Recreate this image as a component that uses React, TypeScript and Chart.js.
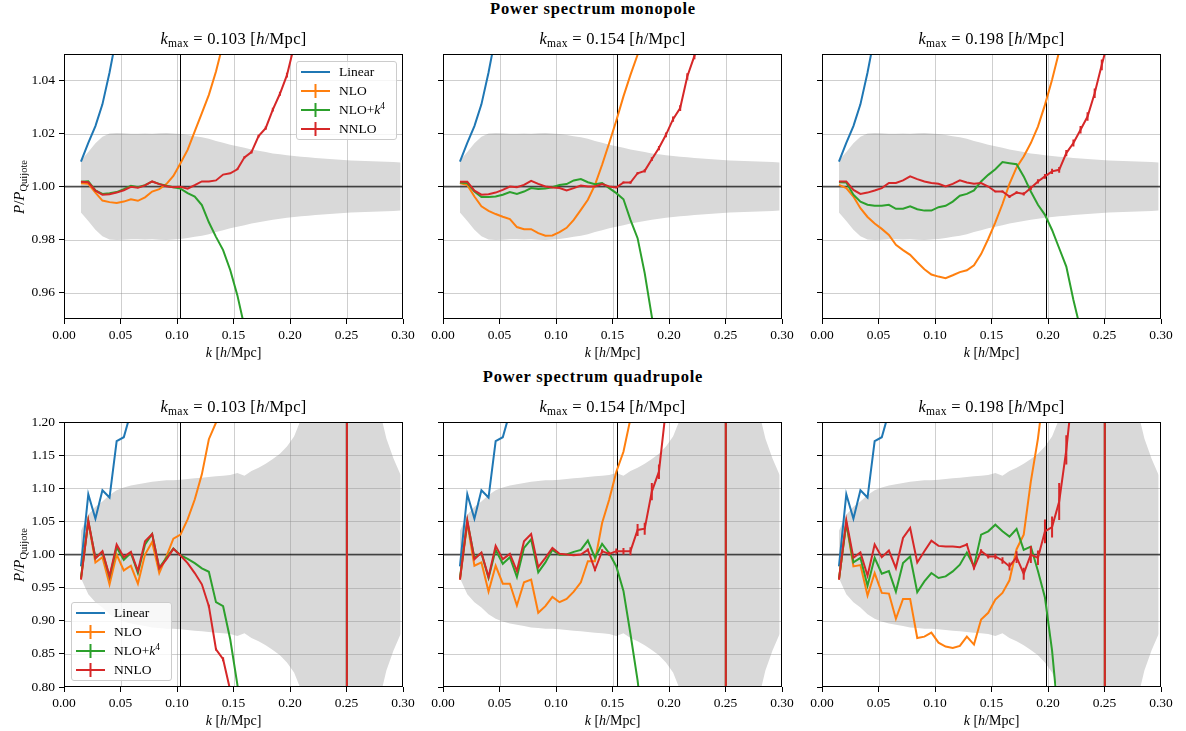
import React, { useEffect, useRef } from "react";
import { Chart, registerables } from "chart.js";

Chart.register(...registerables);

const FONT = "'Liberation Serif', 'Times New Roman', serif";
Chart.defaults.font.family = FONT;
Chart.defaults.color = "#000";

// Wavenumber bins [h/Mpc]
const kBins = [
  0.0150, 0.0215, 0.0278, 0.0340, 0.0403, 0.0466, 0.0529, 0.0592, 0.0654, 0.0717,
  0.0780, 0.0843, 0.0906, 0.0968, 0.1031, 0.1094, 0.1157, 0.1220, 0.1282, 0.1345,
  0.1408, 0.1471, 0.1534, 0.1597, 0.1659, 0.1722, 0.1785, 0.1848, 0.1911, 0.1973,
  0.2036, 0.2099, 0.2162, 0.2225, 0.2288, 0.2350, 0.2413, 0.2476, 0.2539, 0.2602,
  0.2665, 0.2727, 0.2790, 0.2853, 0.2916, 0.2979,
];

const xTicks = [0, 0.05, 0.1, 0.15, 0.2, 0.25, 0.3];
const yTicksMono = [0.96, 0.98, 1.0, 1.02, 1.04];
const yTicksQuad = [0.8, 0.85, 0.9, 0.95, 1.0, 1.05, 1.1, 1.15, 1.2];
const kmaxValues = [0.103, 0.154, 0.198];

// Relative 1-sigma scatter of the simulations
const sigmaMono = [
  0.0098, 0.0130, 0.0163, 0.0188, 0.0200, 0.0202, 0.0201, 0.0199, 0.0199, 0.0200,
  0.0199, 0.0201, 0.0202, 0.0200, 0.0198, 0.0194, 0.0190, 0.0186, 0.0180, 0.0172,
  0.0165, 0.0158, 0.0152, 0.0146, 0.0140, 0.0135, 0.0130, 0.0125, 0.0122, 0.0118,
  0.0115, 0.0112, 0.0110, 0.0108, 0.0106, 0.0104, 0.0102, 0.0100, 0.0098, 0.0097,
  0.0096, 0.0095, 0.0094, 0.0093, 0.0092, 0.0091,
];
const sigmaQuad = [
  0.036, 0.060, 0.072, 0.080, 0.090, 0.097, 0.101, 0.104, 0.106, 0.108,
  0.110, 0.111, 0.112, 0.112, 0.113, 0.114, 0.115, 0.116, 0.117, 0.118,
  0.119, 0.120, 0.123, 0.119, 0.126, 0.131, 0.137, 0.144, 0.152, 0.163,
  0.178, 0.205, 0.25, 0.32, 0.45, 0.8, 1.8, 12.0, 9.0, 1.6,
  0.7, 0.4, 0.22, 0.175, 0.145, 0.120,
];

// ---- Monopole ratios P / P_Quijote ----
const linearMono = [1.0094, 1.0165, 1.0228, 1.031, 1.043, 1.057, 1.071, 1.086];

const nloMono103 = [
  1.0012, 1.0010, 0.9977, 0.9947, 0.9941, 0.9938, 0.9943, 0.9952, 0.9946, 0.9959,
  0.9981, 0.9990, 1.0009, 1.0040, 1.0088, 1.0138, 1.0208, 1.0277, 1.0346, 1.0434,
  1.0540, 1.066,
];
const nlok4Mono103 = [
  1.0018, 1.0020, 0.9985, 0.9972, 0.9975, 0.9979, 0.9990, 1.0003, 0.9997, 1.0005,
  1.0019, 1.0010, 1.0003, 0.9997, 0.9992, 0.9975, 0.9962, 0.9930, 0.9865, 0.9810,
  0.9760, 0.9685, 0.9590, 0.9470, 0.934,
];
const nnloMono103 = [
  1.0018, 1.0016, 0.9984, 0.9969, 0.9971, 0.9977, 0.9986, 0.9999, 0.9995, 1.0004,
  1.0019, 1.0009, 1.0001, 0.9997, 0.9999, 0.9992, 1.0005, 1.0019, 1.0019, 1.0023,
  1.0045, 1.0050, 1.0065, 1.0110, 1.0130, 1.0190, 1.0220, 1.0290, 1.0350, 1.0420,
  1.0530, 1.065,
];

const nloMono154 = [
  1.0013, 1.0006, 0.9962, 0.9925, 0.9908, 0.9896, 0.9886, 0.9877, 0.9847, 0.9839,
  0.9839, 0.9824, 0.9814, 0.9815, 0.9828, 0.9844, 0.9874, 0.9912, 0.9950, 1.0006,
  1.0082, 1.0164, 1.0249, 1.0340, 1.0421, 1.0497, 1.0580,
];
const nlok4Mono154 = [
  1.0015, 1.0013, 0.9981, 0.9960, 0.9960, 0.9962, 0.9969, 0.9979, 0.9972, 0.9981,
  0.9994, 0.9991, 0.9992, 0.9997, 1.0006, 1.0009, 1.0023, 1.0028, 1.0016, 1.0009,
  1.0013, 0.9994, 0.9975, 0.9952, 0.9874, 0.9805, 0.9673, 0.9509, 0.932,
];
const nnloMono154 = [
  1.0018, 1.0018, 0.9984, 0.9969, 0.9971, 0.9977, 0.9987, 1.0000, 0.9997, 1.0006,
  1.0021, 1.0010, 1.0000, 0.9996, 0.9994, 0.9985, 0.9994, 1.0004, 1.0000, 1.0000,
  1.0009, 1.0000, 0.9996, 1.0015, 1.0015, 1.0050, 1.0059, 1.0103, 1.0145, 1.0195,
  1.0254, 1.0296, 1.0415, 1.0493, 1.060,
];

const nloMono198 = [
  1.0006, 0.9994, 0.9962, 0.9918, 0.9885, 0.9860, 0.9840, 0.9817, 0.9780, 0.9760,
  0.9742, 0.9714, 0.9688, 0.9668, 0.9660, 0.9654, 0.9665, 0.9677, 0.9684, 0.9703,
  0.9745, 0.9802, 0.9865, 0.9934, 1.0010, 1.0072, 1.0113, 1.0164, 1.0226, 1.0308,
  1.0403, 1.0510, 1.062,
];
const nlok4Mono198 = [
  1.0016, 1.0015, 0.9969, 0.9943, 0.9931, 0.9927, 0.9927, 0.9931, 0.9916, 0.9916,
  0.9925, 0.9914, 0.9909, 0.9909, 0.9922, 0.9927, 0.9943, 0.9965, 0.9972, 0.9985,
  1.0019, 1.0044, 1.0065, 1.0092, 1.0088, 1.0084, 1.0038, 0.9981, 0.9931, 0.9893,
  0.9836, 0.9767, 0.9698, 0.9572, 0.9460, 0.930,
];
const nnloMono198 = [
  1.0019, 1.0019, 0.9987, 0.9972, 0.9977, 0.9985, 0.9994, 1.0013, 1.0013, 1.0023,
  1.0038, 1.0028, 1.0019, 1.0013, 1.0010, 1.0000, 1.0010, 1.0023, 1.0015, 1.0010,
  1.0013, 1.0000, 0.9981, 0.9981, 0.9962, 0.9977, 0.9972, 0.9994, 1.0019, 1.0038,
  1.0057, 1.0063, 1.0126, 1.0164, 1.0214, 1.0264, 1.0352, 1.0459, 1.056,
];

const nnloErrMono = [
  0, 0, 0, 0, 0, 0, 0, 0, 0, 0,
  0, 0, 0, 0, 0, 0, 0, 0, 0, 0,
  0, 0, 0.0003, 0.0004, 0.0005, 0.0005, 0.0006, 0.0007, 0.0008, 0.0009,
  0.0010, 0.0011, 0.0012, 0.0013, 0.0014, 0.0016, 0.0018, 0.0020, 0.0022,
];

// ---- Quadrupole ratios P / P_Quijote ----
const linearQuad = [
  0.982, 1.091, 1.054, 1.097, 1.086, 1.171, 1.177, 1.215, 1.25, 1.29,
  1.33, 1.37, 1.41, 1.45, 1.50, 1.55, 1.60, 1.66, 1.72, 1.79,
  1.86, 1.94, 2.03, 2.13, 2.25, 2.40, 2.57, 2.78, 3.05, 3.40,
  3.90, 4.60, 5.70, 7.50, 11.0, 17.0, 28.0, 38.0, -62.0, -9.0,
];

const nloQuad103 = [
  0.963, 1.050, 0.988, 0.996, 0.955, 1.000, 0.976, 0.983, 0.956, 1.000,
  1.019, 0.972, 0.997, 1.024, 1.030, 1.053, 1.083, 1.121, 1.174, 1.199,
  1.26, 1.33, 1.42, 1.52, 1.64, 1.78, 1.95, 2.15, 2.40, 2.70,
  3.10, 3.70, 4.60, 6.00, 8.50, 13.0, 24.0, 40.0, -65.0, -10.0,
];
const nlok4Quad103 = [
  0.965, 1.050, 0.995, 1.004, 0.966, 1.011, 0.992, 1.0025, 0.972, 1.015,
  1.031, 0.980, 0.995, 1.009, 0.999, 0.9935, 0.987, 0.979, 0.974, 0.928,
  0.922, 0.872, 0.804, 0.72, 0.62, 0.50, 0.36, 0.20, 0.0, -0.3,
  -0.7, -1.3, -2.2, -3.6, -6.0, -11.0, -21.0, -38.0, 62.0, 9.0,
];
const nnloQuad103 = [
  0.962, 1.051, 0.994, 1.005, 0.967, 1.015, 0.996, 1.004, 0.975, 1.020,
  1.031, 0.979, 0.9925, 1.0085, 0.9985, 0.987, 0.972, 0.955, 0.922, 0.857,
  0.842, 0.795, 0.70, 0.58, 0.44, 0.28, 0.10, -0.12, -0.4, -0.8,
  -1.3, -2.0, -3.0, -4.5, -7.0, -12.0, -22.0, -38.0, 62.0, 9.0,
];

const nloQuad154 = [
  0.962, 1.0475, 0.983, 0.988, 0.944, 0.983, 0.956, 0.956, 0.923, 0.958,
  0.962, 0.912, 0.922, 0.936, 0.928, 0.933, 0.944, 0.958, 0.990, 0.990,
  1.0475, 1.083, 1.125, 1.155, 1.205, 1.27, 1.36, 1.48, 1.63, 1.82,
  2.07, 2.40, 2.90, 3.70, 5.20, 8.50, 17.0, 38.0, -62.0, -9.0,
];
const nlok4Quad154 = [
  0.9645, 1.050, 0.995, 1.002, 0.9645, 1.007, 0.986, 0.996, 0.966, 1.010,
  1.023, 0.973, 0.988, 1.007, 0.9998, 1.000, 1.004, 1.007, 1.021, 0.995,
  1.016, 1.002, 0.982, 0.945, 0.880, 0.810, 0.72, 0.60, 0.45, 0.26,
  0.02, -0.3, -0.75, -1.4, -2.5, -4.8, -11.0, -38.0, 62.0, 9.0,
];
const nnloQuad154 = [
  0.962, 1.0515, 0.993, 1.003, 0.966, 1.013, 0.993, 1.001, 0.975, 1.020,
  1.031, 0.981, 0.995, 1.010, 1.001, 1.000, 0.999, 1.000, 1.007, 0.977,
  1.005, 1.001, 1.005, 1.005, 1.005, 1.037, 1.039, 1.095, 1.125, 1.22,
  1.35, 1.52, 1.75, 2.10, 2.70, 4.00, 8.00, 38.0, -62.0, -9.0,
];

const nloQuad198 = [
  0.962, 1.0475, 0.982, 0.984, 0.938, 0.972, 0.942, 0.941, 0.903, 0.933,
  0.933, 0.874, 0.876, 0.882, 0.867, 0.861, 0.859, 0.862, 0.876, 0.864,
  0.902, 0.912, 0.932, 0.942, 0.961, 1.008, 1.030, 1.110, 1.175, 1.26,
  1.38, 1.55, 1.80, 2.20, 2.90, 4.30, 9.0, 38.0, -62.0, -9.0,
];
const nlok4Quad198 = [
  0.963, 1.0475, 0.988, 0.995, 0.953, 0.995, 0.971, 0.975, 0.944, 0.987,
  0.997, 0.943, 0.9595, 0.972, 0.9645, 0.967, 0.9745, 0.9847, 1.003, 0.982,
  1.030, 1.035, 1.045, 1.035, 1.027, 1.0385, 1.007, 1.012, 0.975, 0.935,
  0.855, 0.74, 0.58, 0.36, 0.05, -0.5, -3.0, -38.0, 62.0, 9.0,
];
const nnloQuad198 = [
  0.962, 1.0515, 0.995, 1.003, 0.968, 1.015, 0.996, 1.006, 0.9795, 1.025,
  1.040, 0.988, 1.005, 1.021, 1.013, 1.012, 1.012, 1.011, 1.015, 0.9795,
  1.005, 0.997, 0.997, 0.991, 0.982, 0.996, 0.971, 1.000, 0.995, 1.035,
  1.0415, 1.080, 1.158, 1.26, 1.45, 1.90, 3.50, 38.0, -62.0, -9.0,
];

const nnloErrQuad = [
  0, 0, 0, 0, 0, 0, 0, 0, 0, 0,
  0, 0, 0, 0, 0, 0, 0, 0, 0.002, 0.002,
  0.003, 0.003, 0.004, 0.005, 0.006, 0.009, 0.009, 0.013, 0.011, 0.018,
  0.016, 0.028, 0.022, 0.030, 0.040, 0.060, 0.10, 0.5, 0.5, 0.1,
];

const COLORS = {
  linear: "#1f77b4",
  nlo: "#ff7f0e",
  nlok4: "#2ca02c",
  nnlo: "#d62728",
};
const BAND_COLOR = "#d9d9d9";
const GRID_COLOR = "rgba(140,140,140,0.42)";

// Figure geometry
const COL_LEFT = [64, 443, 822];
const ROW_TOP = [54, 422];
const PLOT_W = 339;
const PLOT_H = 265;
const ML = 60;
const MR = 20;
const MT = 8;
const MB = 30;

type PanelSpec = {
  row: number;
  col: number;
  kmax: number;
  sigma: number[];
  linear: number[];
  nlo: number[];
  nlok4: number[];
  nnlo: number[];
  err: number[];
  yMin: number;
  yMax: number;
  yTicks: number[];
};

const panels: PanelSpec[] = [
  { row: 0, col: 0, kmax: kmaxValues[0], sigma: sigmaMono, linear: linearMono, nlo: nloMono103, nlok4: nlok4Mono103, nnlo: nnloMono103, err: nnloErrMono, yMin: 0.95, yMax: 1.05, yTicks: yTicksMono },
  { row: 0, col: 1, kmax: kmaxValues[1], sigma: sigmaMono, linear: linearMono, nlo: nloMono154, nlok4: nlok4Mono154, nnlo: nnloMono154, err: nnloErrMono, yMin: 0.95, yMax: 1.05, yTicks: yTicksMono },
  { row: 0, col: 2, kmax: kmaxValues[2], sigma: sigmaMono, linear: linearMono, nlo: nloMono198, nlok4: nlok4Mono198, nnlo: nnloMono198, err: nnloErrMono, yMin: 0.95, yMax: 1.05, yTicks: yTicksMono },
  { row: 1, col: 0, kmax: kmaxValues[0], sigma: sigmaQuad, linear: linearQuad, nlo: nloQuad103, nlok4: nlok4Quad103, nnlo: nnloQuad103, err: nnloErrQuad, yMin: 0.8, yMax: 1.2, yTicks: yTicksQuad },
  { row: 1, col: 1, kmax: kmaxValues[1], sigma: sigmaQuad, linear: linearQuad, nlo: nloQuad154, nlok4: nlok4Quad154, nnlo: nnloQuad154, err: nnloErrQuad, yMin: 0.8, yMax: 1.2, yTicks: yTicksQuad },
  { row: 1, col: 2, kmax: kmaxValues[2], sigma: sigmaQuad, linear: linearQuad, nlo: nloQuad198, nlok4: nlok4Quad198, nnlo: nnloQuad198, err: nnloErrQuad, yMin: 0.8, yMax: 1.2, yTicks: yTicksQuad },
];

const toPoints = (vals: number[]) => vals.map((v, i) => ({ x: kBins[i], y: v }));

// Grid, unity line, k_max marker, NNLO error bars and the axes frame
const decorPlugin = {
  id: "panelDecor",
  afterDatasetDraw(chart: any, args: any, opts: any) {
    const ds = chart.data.datasets[args.index];
    const { ctx, chartArea: a } = chart;
    const xs = chart.scales.x;
    const ys = chart.scales.y;
    if (ds.label === "band-lower") {
      ctx.save();
      ctx.beginPath();
      ctx.rect(a.left, a.top, a.right - a.left, a.bottom - a.top);
      ctx.clip();
      ctx.strokeStyle = GRID_COLOR;
      ctx.lineWidth = 1;
      ctx.beginPath();
      for (const t of opts.xTicks) {
        const p = Math.round(xs.getPixelForValue(t)) + 0.5;
        ctx.moveTo(p, a.top);
        ctx.lineTo(p, a.bottom);
      }
      for (const t of opts.yTicks) {
        const p = Math.round(ys.getPixelForValue(t)) + 0.5;
        ctx.moveTo(a.left, p);
        ctx.lineTo(a.right, p);
      }
      ctx.stroke();
      const py = ys.getPixelForValue(1);
      ctx.strokeStyle = "rgba(0,0,0,0.7)";
      ctx.lineWidth = 1.5;
      ctx.beginPath();
      ctx.moveTo(a.left, py);
      ctx.lineTo(a.right, py);
      ctx.stroke();
      const px = Math.round(xs.getPixelForValue(opts.kmax)) + 0.5;
      ctx.strokeStyle = "#000";
      ctx.lineWidth = 1;
      ctx.beginPath();
      ctx.moveTo(px, a.top);
      ctx.lineTo(px, a.bottom);
      ctx.stroke();
      ctx.restore();
    }
    if (ds.label === "NNLO" && opts.errors) {
      ctx.save();
      ctx.beginPath();
      ctx.rect(a.left, a.top, a.right - a.left, a.bottom - a.top);
      ctx.clip();
      ctx.strokeStyle = COLORS.nnlo;
      ctx.lineWidth = 2;
      ctx.beginPath();
      ds.data.forEach((pt: any, i: number) => {
        const e = opts.errors[i];
        if (!e) return;
        const x = xs.getPixelForValue(pt.x);
        ctx.moveTo(x, ys.getPixelForValue(pt.y - e));
        ctx.lineTo(x, ys.getPixelForValue(pt.y + e));
      });
      ctx.stroke();
      ctx.restore();
    }
  },
  afterDraw(chart: any) {
    const { ctx, chartArea: a } = chart;
    ctx.save();
    ctx.strokeStyle = "#000";
    ctx.lineWidth = 1;
    ctx.strokeRect(a.left + 0.5, a.top + 0.5, a.right - a.left - 1, a.bottom - a.top - 1);
    ctx.restore();
  },
};

function Panel({ spec }: { spec: PanelSpec }) {
  const ref = useRef<HTMLCanvasElement>(null);
  const W = PLOT_W + ML + MR;
  const H = PLOT_H + MT + MB;
  const left = COL_LEFT[spec.col] - ML;
  const top = ROW_TOP[spec.row] - MT;

  useEffect(() => {
    const canvas = ref.current;
    if (!canvas) return;
    const line = (label: string, vals: number[], color: string, order: number) => ({
      label,
      data: toPoints(vals),
      borderColor: color,
      backgroundColor: color,
      borderWidth: 2,
      pointRadius: 0,
      fill: false,
      tension: 0,
      order,
      clip: 0,
    });
    const chart = new Chart(canvas, {
      type: "line",
      data: {
        datasets: [
          {
            label: "band-upper",
            data: toPoints(spec.sigma.map((s) => 1 + s)),
            borderWidth: 0,
            borderColor: "rgba(0,0,0,0)",
            pointRadius: 0,
            fill: false,
            tension: 0,
            order: 11,
          },
          {
            label: "band-lower",
            data: toPoints(spec.sigma.map((s) => 1 - s)),
            borderWidth: 0,
            borderColor: "rgba(0,0,0,0)",
            backgroundColor: BAND_COLOR,
            pointRadius: 0,
            fill: "-1",
            tension: 0,
            order: 10,
          },
          line("Linear", spec.linear, COLORS.linear, 4),
          line("NLO", spec.nlo, COLORS.nlo, 3),
          line("NLO+k4", spec.nlok4, COLORS.nlok4, 2),
          line("NNLO", spec.nnlo, COLORS.nnlo, 1),
        ] as any,
      },
      options: {
        responsive: false,
        animation: false,
        devicePixelRatio: 1,
        events: [],
        layout: { padding: { top: MT, right: MR, bottom: 0, left: 0 } },
        plugins: {
          legend: { display: false },
          tooltip: { enabled: false },
          title: { display: false },
          panelDecor: { kmax: spec.kmax, xTicks, yTicks: spec.yTicks, errors: spec.err },
        } as any,
        scales: {
          x: {
            type: "linear",
            min: 0,
            max: 0.3,
            afterBuildTicks: (s: any) => {
              s.ticks = xTicks.map((v) => ({ value: v }));
            },
            afterFit: (s: any) => {
              s.height = MB;
              s.paddingLeft = 0;
              s.paddingRight = 0;
            },
            ticks: {
              autoSkip: false,
              maxRotation: 0,
              padding: 3,
              font: { family: FONT, size: 13.5 },
              color: "#000",
              callback: (v: any) => Number(v).toFixed(2),
            },
            grid: {
              display: true,
              drawOnChartArea: false,
              drawTicks: true,
              tickLength: 5,
              tickColor: "#000",
              tickWidth: 1,
            },
            border: { display: false },
          },
          y: {
            type: "linear",
            min: spec.yMin,
            max: spec.yMax,
            afterBuildTicks: (s: any) => {
              s.ticks = spec.yTicks.map((v) => ({ value: v }));
            },
            afterFit: (s: any) => {
              s.width = ML;
              s.paddingTop = 0;
              s.paddingBottom = 0;
            },
            ticks: {
              autoSkip: false,
              padding: 4,
              font: { family: FONT, size: 13.5 },
              color: "#000",
              callback: (v: any) => (spec.col === 0 ? Number(v).toFixed(2) : ""),
            },
            grid: {
              display: true,
              drawOnChartArea: false,
              drawTicks: true,
              tickLength: 5,
              tickColor: "#000",
              tickWidth: 1,
            },
            border: { display: false },
          },
        },
      } as any,
      plugins: [decorPlugin as any],
    });
    return () => chart.destroy();
  }, [spec]);

  return (
    <canvas
      ref={ref}
      width={W}
      height={H}
      style={{ position: "absolute", left, top, width: W, height: H }}
    />
  );
}

function Text({
  cx,
  cy,
  size,
  bold,
  rotate,
  spacing,
  children,
}: {
  cx: number;
  cy: number;
  size: number;
  bold?: boolean;
  rotate?: boolean;
  spacing?: number;
  children: React.ReactNode;
}) {
  return (
    <div
      style={{
        position: "absolute",
        left: cx - 300,
        top: cy - 15,
        width: 600,
        height: 30,
        lineHeight: "30px",
        textAlign: "center",
        fontSize: size,
        fontWeight: bold ? "bold" : "normal",
        letterSpacing: spacing ? spacing : undefined,
        whiteSpace: "nowrap",
        transform: rotate ? "rotate(-90deg)" : undefined,
      }}
    >
      {children}
    </div>
  );
}

const Sub = ({ children }: { children: React.ReactNode }) => (
  <span style={{ fontSize: "0.7em", position: "relative", top: "0.3em" }}>{children}</span>
);

const legendEntries = [
  { label: <>Linear</>, color: COLORS.linear, errorbar: false },
  { label: <>NLO</>, color: COLORS.nlo, errorbar: true },
  {
    label: (
      <>
        NLO+<i>k</i>
        <span style={{ fontSize: "0.7em", position: "relative", top: "-0.5em" }}>4</span>
      </>
    ),
    color: COLORS.nlok4,
    errorbar: true,
  },
  { label: <>NNLO</>, color: COLORS.nnlo, errorbar: true },
];

function Legend({ left, top }: { left: number; top: number }) {
  return (
    <div
      style={{
        position: "absolute",
        left,
        top,
        width: 101,
        height: 79,
        boxSizing: "border-box",
        border: "1px solid #cccccc",
        borderRadius: 3,
        background: "rgba(255,255,255,0.8)",
      }}
    >
      {legendEntries.map((e, i) => {
        const cy = 10 + 18.9 * i;
        return (
          <React.Fragment key={i}>
            <svg
              width={29}
              height={14}
              style={{ position: "absolute", left: 4, top: cy - 7 }}
            >
              <line x1={0} y1={7} x2={29} y2={7} stroke={e.color} strokeWidth={2} />
              {e.errorbar && (
                <line x1={14.5} y1={0} x2={14.5} y2={14} stroke={e.color} strokeWidth={2} />
              )}
            </svg>
            <div
              style={{
                position: "absolute",
                left: 42,
                top: cy - 9,
                height: 18,
                lineHeight: "18px",
                fontSize: 13.5,
                whiteSpace: "nowrap",
              }}
            >
              {e.label}
            </div>
          </React.Fragment>
        );
      })}
    </div>
  );
}

export default function App() {
  return (
    <div
      style={{
        position: "fixed",
        left: 0,
        top: 0,
        width: 1186,
        height: 731,
        background: "#fff",
        overflow: "hidden",
        fontFamily: FONT,
        color: "#000",
      }}
    >
      {panels.map((p, i) => (
        <Panel key={i} spec={p} />
      ))}

      <Text cx={593} cy={9} size={16.5} bold spacing={0.8}>
        Power spectrum monopole
      </Text>
      <Text cx={593} cy={377} size={16.5} bold spacing={0.8}>
        Power spectrum quadrupole
      </Text>

      {panels.map((p, i) => (
        <React.Fragment key={"t" + i}>
          <Text cx={COL_LEFT[p.col] + PLOT_W / 2} cy={ROW_TOP[p.row] - 15} size={16.5} spacing={0.3}>
            <i>k</i>
            <Sub>max</Sub> = {p.kmax.toFixed(3)} [<i>h</i>/Mpc]
          </Text>
          <Text cx={COL_LEFT[p.col] + PLOT_W / 2} cy={ROW_TOP[p.row] + PLOT_H + 34} size={14}>
            <i>k</i> [<i>h</i>/Mpc]
          </Text>
        </React.Fragment>
      ))}

      {ROW_TOP.map((t, r) => (
        <Text key={"y" + r} cx={18.5} cy={t + PLOT_H / 2} size={15} rotate>
          <i>P</i>/<i>P</i>
          <Sub>Quijote</Sub>
        </Text>
      ))}

      <Legend left={296} top={61} />
      <Legend left={71} top={602} />
    </div>
  );
}
